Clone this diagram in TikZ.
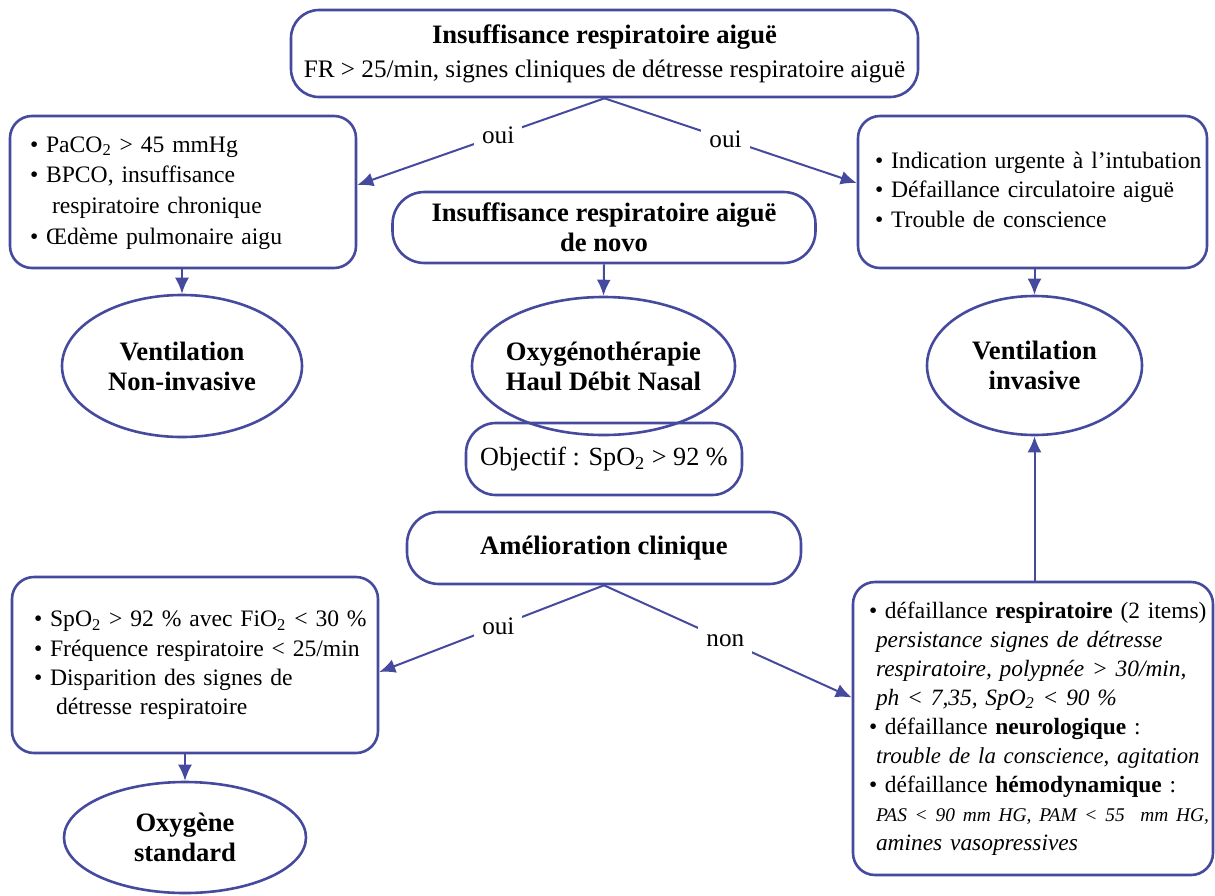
\documentclass[tikz,border=0pt]{standalone}
\usepackage{fontspec}
\setmainfont{Liberation Serif}
\usetikzlibrary{shapes.geometric,arrows.meta}
\definecolor{ink}{RGB}{70,74,158}
\newcommand{\bodyfont}{\fontsize{12.6}{15}\selectfont}
\newcommand{\listfont}{\fontsize{11.8}{14.7}\selectfont}
\newcommand{\headfont}{\bfseries\fontsize{13.3}{15}\selectfont}
\newcommand{\itm}{\textbullet\ }
\newcommand{\cont}[1][0.75em]{\hspace*{#1}}
\tikzset{
   rbox/.style={draw=ink, line width=1.3pt, rounded corners=#1, align=center, inner sep=0pt},
   rbox/.default=12pt,
   listbox/.style={draw=ink, line width=1.3pt, rounded corners=11pt, align=left, font=\listfont},
   oval/.style={draw=ink, line width=1.3pt, ellipse, align=center, inner sep=0pt, font=\headfont},
   flow/.style={draw=ink, line width=1pt, -{Latex[length=8pt,width=7pt]}},
   tag/.style={fill=white, inner sep=4pt, font=\bodyfont}
}
\begin{document}
\begin{tikzpicture}[x=0.5pt,y=-0.5pt]
   \useasboundingbox (0,0) rectangle (1215,895);
   \node[rbox=14pt, minimum width=313.5pt, minimum height=43.5pt] (top) at (604.5,53.5)
      {{\headfont Insuffisance respiratoire aiguë}\\[5pt]{\bodyfont FR > 25/min, signes cliniques de détresse respiratoire aiguë}};
   \node[listbox, minimum height=76pt, inner xsep=10pt, text width=153pt, font=\fontsize{11.8}{15.3}\selectfont] (lb1) at (183,192)
      {\begin{tabular}{@{}l@{}}
       \itm PaCO\textsubscript{2} > 45 mmHg\\
       \itm BPCO, insuffisance\\
       \cont[0.6em] respiratoire chronique\\
       \itm Œdème pulmonaire aigu
       \end{tabular}};
   \node[listbox, minimum height=76pt, inner xsep=8.5pt, text width=157.5pt] (rb1) at (1032.5,192)
      {\begin{tabular}{@{}l@{}}
       \itm Indication urgente à l’intubation\\
       \itm Défaillance circulatoire aiguë\\
       \itm Trouble de conscience
       \end{tabular}};
   \node[rbox=16pt, minimum width=211.5pt, minimum height=35.5pt, font=\headfont] (nov) at (604,227.5)
      {Insuffisance respiratoire aiguë\\de novo};
   \node[oval, minimum width=120pt, minimum height=71pt] (nivent) at (182,366) {Ventilation\\Non-invasive};
   \node[oval, minimum width=131.5pt, minimum height=69pt, inner xsep=-4pt] (hdn) at (603.5,366) {Oxygénothérapie\\Haul Débit Nasal};
   \node[oval, minimum width=107.5pt, minimum height=69.5pt] (ivent) at (1034.5,365.5) {Ventilation\\invasive};
   \node[rbox=15pt, minimum width=138pt, minimum height=36pt, font=\fontsize{13.1}{15}\selectfont] (goal) at (604,459)
      {Objectif : SpO\textsubscript{2} > 92 \%};
   \node[rbox=16pt, minimum width=197pt, minimum height=36pt, font=\headfont] (amel) at (604,548)
      {Amélioration clinique};
   \node[listbox, minimum height=88pt, inner xsep=11pt, text width=161pt] (lb2) at (195,665)
      {\begin{tabular}{@{}l@{}}
       \itm SpO\textsubscript{2} > 92 \% avec FiO\textsubscript{2} < 30 \%\\
       \itm Fréquence respiratoire < 25/min\\
       \itm Disparition des signes de\\
       \cont[0.6em] détresse respiratoire
       \end{tabular}};
   \node[oval, minimum width=121pt, minimum height=55.5pt] (oxstd) at (185,837.5) {Oxygène\\standard};
   \node[listbox, minimum height=146.5pt, inner xsep=8pt, text width=164pt, font=\fontsize{11.7}{14.5}\selectfont] (rb2) at (1033,728.5)
      {\begin{tabular}{@{}l@{}}
       \itm défaillance \textbf{respiratoire} (2 items)\\
       \cont[0.3em]\textit{persistance signes de détresse}\\
       \cont[0.3em]\textit{respiratoire, polypnée > 30/min,}\\
       \cont[0.3em]\textit{ph < 7,35, SpO\textsubscript{2} < 90 \%}\\
       \itm défaillance \textbf{neurologique} :\\
       \cont[0.3em]{\itshape\fontsize{11.4}{14.5}\selectfont trouble de la conscience, agitation}\\
       \itm défaillance \textbf{hémodynamique} :\\
       \cont[0.3em]{\itshape\fontsize{9.7}{14.5}\selectfont PAS < 90 mm HG, PAM < 55~ mm HG,}\\
       \cont[0.3em]\textit{amines vasopressives}
       \end{tabular}};
   \draw[flow] (top.south) -- node[tag, pos=0.43] (yes1) {oui} ([yshift=3.5pt]lb1.east);
   \draw[flow] (top.south) -- node[tag, pos=0.48] (yes2) {oui} ([yshift=4.5pt]rb1.west);
   \draw[flow] (lb1.south -| nivent.north) -- (nivent.north);
   \draw[flow] (nov.south) -- (hdn.north);
   \draw[flow] (rb1.south -| ivent.north) -- (ivent.north);
   \draw[flow] (amel.south) -- node[tag, pos=0.47] (yes3) {oui} ([yshift=-3.5pt]lb2.east);
   \draw[flow] (amel.south) -- node[tag, pos=0.49] (no1) {non} ([yshift=15.5pt]rb2.west);
   \draw[flow] (lb2.south -| oxstd.north) -- (oxstd.north);
   \draw[flow] (rb2.north -| ivent.south) -- (ivent.south);
\end{tikzpicture}
\end{document}
